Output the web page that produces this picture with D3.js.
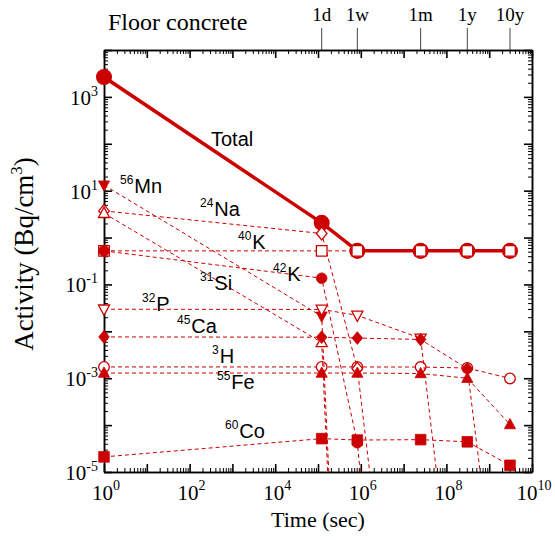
<!DOCTYPE html>
<html>
<head>
<meta charset="utf-8">
<script src="https://cdn.jsdelivr.net/npm/d3@7"></script>
<style>
  body { margin: 0; background: #fff; }
</style>
</head>
<body>
<div id="chart"></div>
<script>
// evaluation times (sec) as placed on the chart: start, then the 1d..10y columns
var times = [1, 1.22e5, 8.3e5, 2.5e7, 3.08e8, 3.06e9];
var topLabels = ["", "1d", "1w", "1m", "1y", "10y"];

// activities (Bq/cm3); values far below 1e-5 only set the slope of the dashed line
var total = [2650, 2.06, 0.52, 0.52, 0.52, 0.52];
var mn56 = [13.1, 0.021, 4e-19];
var na24 = [3.7, 1.22, 1.6e-3, 8e-15];
var si31 = [3.3, 5.8e-3, 1.6e-19];
var k40 = [0.52, 0.52, 0.52, 0.52, 0.52, 0.52];
var k42 = [0.52, 0.136, 4.2e-5, 8e-19];
var p32 = [0.0296, 0.0293, 0.0219, 0.0071, 3e-11];
var ca45 = [7.6e-3, 7.5e-3, 7.2e-3, 6.7e-3, 1.6e-3, 8e-11];
var h3 = [1.74e-3, 1.74e-3, 1.74e-3, 1.73e-3, 1.65e-3, 9.9e-4];
var fe55 = [1.29e-3, 1.29e-3, 1.29e-3, 1.26e-3, 1.0e-3, 1.03e-4];
var co60 = [2.1e-5, 5.15e-5, 4.8e-5, 4.9e-5, 4.4e-5, 1.39e-5];

var xTickExp = [0, 2, 4, 6, 8, 10];
var yTickExp = [3, 1, -1, -3, -5];

var SERIF = "'Liberation Serif', 'Times New Roman', serif";
var SANS = "'Liberation Sans', Arial, sans-serif";

function init() {
  var w = 555, h = 540;
  var left = 104, right = 532, top = 50, bottom = 472;
  var red = "#cc0000";

  var svg = d3.select("#chart").append("svg")
    .attr("width", w)
    .attr("height", h);

  var x = d3.scaleLog().domain([1, 1e10]).range([left, right]);
  var y = d3.scaleLog().domain([1e-5, 1e4]).range([bottom, top]);

  // major / minor tick values
  var xMajor = d3.range(0, 11).map(function(e) { return Math.pow(10, e); });
  var yMajor = d3.range(-5, 5).map(function(e) { return Math.pow(10, e); });
  var xMinor = [], yMinor = [];
  d3.range(0, 10).forEach(function(e) {
    for (var k = 2; k < 10; k++) xMinor.push(k * Math.pow(10, e));
  });
  d3.range(-5, 4).forEach(function(e) {
    for (var k = 2; k < 10; k++) yMinor.push(k * Math.pow(10, e));
  });

  svg.append("defs").append("clipPath").attr("id", "plot")
    .append("rect")
    .attr("x", left).attr("y", top)
    .attr("width", right - left).attr("height", bottom - top);

  // time markers above the frame (1d ... 10y)
  svg.append("g").selectAll("line")
    .data(times.slice(1))
    .enter().append("line")
    .attr("x1", function(d) { return x(d); })
    .attr("x2", function(d) { return x(d); })
    .attr("y1", top).attr("y2", top - 22)
    .attr("stroke", "#444").attr("stroke-width", 1);
  svg.append("g").selectAll("text")
    .data(times.slice(1))
    .enter().append("text")
    .attr("x", function(d) { return x(d); })
    .attr("y", top - 29)
    .attr("text-anchor", "middle")
    .attr("font-family", SERIF).attr("font-size", 19)
    .text(function(d, i) { return topLabels[i + 1]; });

  // four framed axes, ticks pointing inward
  function frame(axisFn, tr, vals, minor) {
    var g = svg.append("g").attr("transform", tr)
      .call(axisFn.tickValues(vals).tickSize(minor ? -4 : -8).tickSizeOuter(0).tickFormat(""));
    g.selectAll(".tick line").attr("stroke", "#000").attr("stroke-width", minor ? 1 : 1.6);
    g.select(".domain").attr("stroke", "#000").attr("stroke-width", 1.5);
    return g;
  }
  frame(d3.axisBottom(x), "translate(0," + bottom + ")", xMajor, false);
  frame(d3.axisBottom(x), "translate(0," + bottom + ")", xMinor, true);
  frame(d3.axisTop(x), "translate(0," + top + ")", xMajor, false);
  frame(d3.axisTop(x), "translate(0," + top + ")", xMinor, true);
  frame(d3.axisLeft(y), "translate(" + left + ",0)", yMajor, false);
  frame(d3.axisLeft(y), "translate(" + left + ",0)", yMinor, true);
  frame(d3.axisRight(y), "translate(" + right + ",0)", yMajor, false);
  frame(d3.axisRight(y), "translate(" + right + ",0)", yMinor, true);

  // power-of-ten labels
  function power(sel, exp, supSize, supDy) {
    sel.append("tspan").text("10");
    sel.append("tspan").attr("font-size", supSize).attr("dy", supDy).text(exp);
  }
  xTickExp.forEach(function(e) {
    var t = svg.append("text").attr("font-family", SERIF)
      .attr("x", x(Math.pow(10, e)) + 2).attr("y", 500)
      .attr("text-anchor", "middle").attr("font-size", 21);
    power(t, e, 14, -10);
  });
  yTickExp.forEach(function(e) {
    var t = svg.append("text").attr("font-family", SERIF)
      .attr("x", 98).attr("y", y(Math.pow(10, e)) + 8)
      .attr("text-anchor", "end").attr("font-size", 21);
    power(t, e, 14, -9);
  });

  svg.append("text").attr("font-family", SERIF)
    .attr("x", (left + right) / 2).attr("y", 527)
    .attr("text-anchor", "middle").attr("font-size", 22)
    .text("Time (sec)");

  var yl = svg.append("text").attr("font-family", SERIF)
    .attr("transform", "translate(33,254) rotate(-90)")
    .attr("text-anchor", "middle").attr("font-size", 27);
  yl.append("tspan").text("Activity (Bq/cm");
  yl.append("tspan").attr("font-size", 17).attr("dy", -11).text("3");
  yl.append("tspan").attr("dy", 11).text(")");

  svg.append("text").attr("font-family", SERIF)
    .attr("x", 108).attr("y", 30).attr("font-size", 24)
    .text("Floor concrete");

  // marker shapes
  function shape(kind, r) {
    if (kind === "circle") return d3.symbol().type(d3.symbolCircle).size(Math.PI * r * r)();
    if (kind === "square") return "M" + (-r) + "," + (-r) + "H" + r + "V" + r + "H" + (-r) + "Z";
    if (kind === "up") return "M0," + (-r * 1.15) + "L" + (r * 1.05) + "," + (r * 0.8) + "H" + (-r * 1.05) + "Z";
    if (kind === "down") return "M0," + (r * 1.15) + "L" + (r * 1.05) + "," + (-r * 0.8) + "H" + (-r * 1.05) + "Z";
    if (kind === "diamond") return "M0," + (-r * 1.2) + "L" + r + ",0L0," + (r * 1.2) + "L" + (-r) + ",0Z";
  }

  var line = d3.line()
    .x(function(d) { return x(d.t); })
    .y(function(d) { return y(d.v); });

  function points(vals) {
    return vals.map(function(v, i) { return { t: times[i], v: v, i: i }; });
  }

  // Total
  var tp = points(total);
  svg.append("path").datum(tp)
    .attr("clip-path", "url(#plot)")
    .attr("d", line).attr("fill", "none")
    .attr("stroke", red).attr("stroke-width", 3.5);
  svg.append("g").selectAll("path").data(tp).enter().append("path")
    .attr("transform", function(d) { return "translate(" + x(d.t) + "," + y(d.v) + ")"; })
    .attr("d", shape("circle", 6.8))
    .attr("fill", function(d) { return d.i < 2 ? red : "#fff"; })
    .attr("stroke", red).attr("stroke-width", 2.5);

  var series = [
    { name: "3H", vals: h3, kind: "circle", filled: false },
    { name: "56Mn", vals: mn56, kind: "down", filled: true },
    { name: "24Na", vals: na24, kind: "diamond", filled: false },
    { name: "31Si", vals: si31, kind: "up", filled: false },
    { name: "40K", vals: k40, kind: "square", filled: false },
    { name: "42K", vals: k42, kind: "circle", filled: true },
    { name: "32P", vals: p32, kind: "down", filled: false },
    { name: "45Ca", vals: ca45, kind: "diamond", filled: true },
    { name: "55Fe", vals: fe55, kind: "up", filled: true },
    { name: "60Co", vals: co60, kind: "square", filled: true }
  ];

  series.forEach(function(s) {
    var pts = points(s.vals);
    svg.append("path").datum(pts)
      .attr("clip-path", "url(#plot)")
      .attr("d", line).attr("fill", "none")
      .attr("stroke", red).attr("stroke-width", 1)
      .attr("stroke-dasharray", "4,3");
    svg.append("g").selectAll("path")
      .data(pts.filter(function(d) { return d.v >= 1e-5; }))
      .enter().append("path")
      .attr("transform", function(d) { return "translate(" + x(d.t) + "," + y(d.v) + ")"; })
      .attr("d", shape(s.kind, 5.3))
      .attr("fill", s.filled ? red : "#fff")
      .attr("stroke", red).attr("stroke-width", s.filled ? 0.8 : 1.3);
  });

  // nuclide labels
  var labels = [
    { mass: "", sym: "Total", x: 211, y: 146 },
    { mass: "56", sym: "Mn", x: 120, y: 193 },
    { mass: "24", sym: "Na", x: 200, y: 216 },
    { mass: "40", sym: "K", x: 238, y: 249 },
    { mass: "42", sym: "K", x: 273, y: 281 },
    { mass: "31", sym: "Si", x: 200, y: 290 },
    { mass: "32", sym: "P", x: 142, y: 311 },
    { mass: "45", sym: "Ca", x: 177, y: 333 },
    { mass: "3", sym: "H", x: 212, y: 363 },
    { mass: "55", sym: "Fe", x: 217, y: 389 },
    { mass: "60", sym: "Co", x: 225, y: 438 }
  ];
  labels.forEach(function(l) {
    var t = svg.append("text").attr("font-family", SANS)
      .attr("x", l.x).attr("y", l.y).attr("font-size", 20);
    if (l.mass) {
      t.append("tspan").attr("font-size", 12).attr("dy", -9).text(l.mass);
      t.append("tspan").attr("dy", 9).attr("dx", 1).text(l.sym);
    } else {
      t.text(l.sym);
    }
  });
}

window.onload = init;
</script>
</body>
</html>
